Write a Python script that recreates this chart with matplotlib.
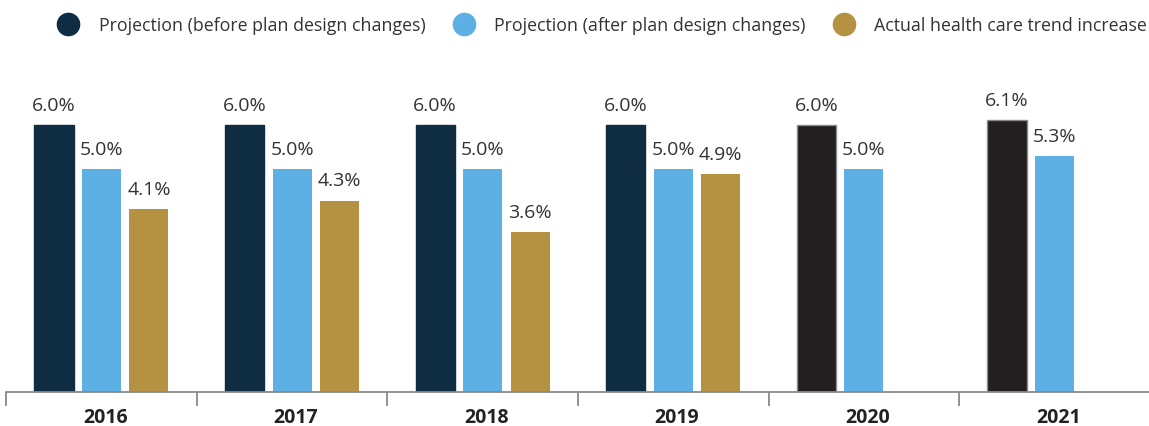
import numpy as np
import matplotlib.pyplot as plt
from matplotlib.lines import Line2D

plt.rcParams['font.family'] = ['Open Sans', 'DejaVu Sans']

# data
years = ['2016', '2017', '2018', '2019', '2020', '2021']
before = [6.0, 6.0, 6.0, 6.0, 6.0, 6.1]
after = [5.0, 5.0, 5.0, 5.0, 5.0, 5.3]
actual = [4.1, 4.3, 3.6, 4.9, np.nan, np.nan]
series_names = ['Projection (before plan design changes)',
                'Projection (after plan design changes)',
                'Actual health care trend increase']

navy = '#0e2d43'
blue = '#5db0e3'
gold = '#b59142'
black = '#231f20'
txt = '#333333'

x = np.arange(len(years))
w = 0.205
step = 0.249

fig = plt.figure(figsize=(11.49, 4.27), dpi=100)
ax = fig.add_axes([0, 0.0796, 1, 0.78])

before_cols = [navy] * 4 + [black] * 2
before_edges = [navy] * 4 + ['#8a8a8a'] * 2
ax.bar(x - step, before, w, color=before_cols, edgecolor=before_edges, linewidth=1)
ax.bar(x, after, w, color=blue)
ax.bar(x + step, actual, w, color=gold)

for vals, off in [(before, -step), (after, 0), (actual, step)]:
    for xi, v in zip(x, vals):
        if np.isnan(v):
            continue
        ax.annotate(f'{v:.1f}%', (xi + off, v), xytext=(0, 8), textcoords='offset points',
                    ha='center', va='bottom', fontsize=14, color=txt)

ax.set_xlim(-0.5325, 5.496)
ax.set_ylim(0, 7.48)
ax.set_yticks([])
for s in ['top', 'left', 'right']:
    ax.spines[s].set_visible(False)
ax.spines['bottom'].set_color('#8a8a8a')
ax.spines['bottom'].set_linewidth(1.3)
ax.spines['bottom'].set_bounds(-0.5, 5.496)

ax.set_xticks(x + 0.02)
ax.set_xticklabels(years, fontsize=14, fontweight='bold', color='#222222')
ax.tick_params(axis='x', which='major', length=0, pad=11)
ax.set_xticks(np.arange(-0.5, 5, 1), minor=True)
ax.tick_params(axis='x', which='minor', length=10, width=1.3, color='#8a8a8a')

handles = [Line2D([], [], marker='o', linestyle='none', markersize=16, color=c)
           for c in [navy, blue, gold]]
fig.legend(handles, series_names, loc='upper center', bbox_to_anchor=(0.521, 0.997),
           ncol=3, frameon=False, fontsize=12.8, labelcolor=txt,
           handletextpad=0.7, columnspacing=1.15)

fig.savefig('out.png')
